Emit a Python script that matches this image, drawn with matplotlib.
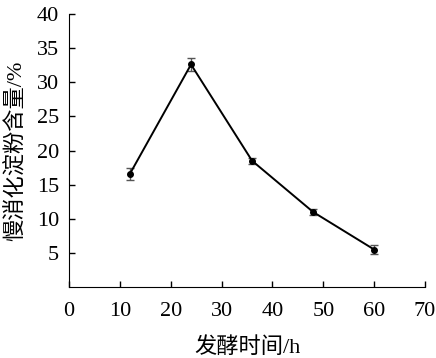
import matplotlib
matplotlib.use("Agg")
import matplotlib.pyplot as plt

plt.rcParams['font.family'] = ['Liberation Serif', 'Noto Sans CJK SC']

hours = [12, 24, 36, 48, 60]
starch = [16.6, 32.6, 18.5, 11.0, 5.5]
err = [0.85, 0.9, 0.4, 0.4, 0.6]

fig = plt.figure(figsize=(4.36, 3.58), dpi=100)
ax = fig.add_axes([0.158, 0.198, 0.817, 0.763])

ax.errorbar(hours, starch, yerr=err, color='black', lw=1.4, marker='o', ms=4,
            ecolor='#555555', elinewidth=1, capsize=3, capthick=1)

ax.set_xlim(0, 70)
ax.set_ylim(0, 40)
ax.set_xticks(range(0, 71, 10))
ax.set_yticks(range(5, 41, 5))
ax.tick_params(direction='in', labelsize=16, length=4, width=1)
ax.tick_params(axis='x', pad=10.5)
ax.tick_params(axis='y', pad=7)
ax.spines['top'].set_visible(False)
ax.spines['right'].set_visible(False)
ax.set_xlabel('发酵时间/h', fontsize=16, labelpad=12)
ax.set_ylabel('慢消化淀粉含量/%', fontsize=16, labelpad=7)

fig.savefig('out.png', dpi=100)
